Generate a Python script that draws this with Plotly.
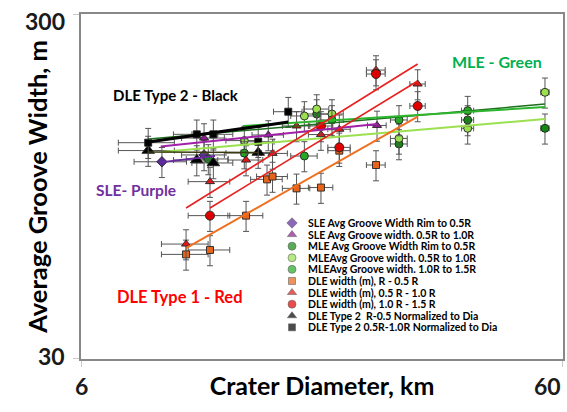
import numpy as np
import plotly.graph_objects as go

# ---------------- data ----------------
x_ticks = [6, 60]
y_ticks = [30, 300]

# SLE
sle_rim_x = [8.83, 10.80]
sle_rim_y = [111.9, 117.1]
sle_mid_x = [10.80, 14.68, 24.68]
sle_mid_y = [131.1, 133.8, 142.6]

# MLE
mle_rim_x = [11.02, 18.50, 27.41, 38.06, 55.06]
mle_rim_y = [114.0, 153.9, 126.0, 147.9, 139.9]
mle_mid_x = [13.09, 17.44, 18.50, 19.90, 27.41, 38.06, 55.06]
mle_mid_y = [128.9, 151.9, 159.1, 153.9, 130.8, 139.9, 177.9]
mle_out_x = [13.09, 17.44, 19.90, 27.41, 38.06]
mle_out_y = [118.6, 116.3, 147.9, 147.9, 157.4]

# DLE type 1
dle_rim_x = [9.91, 11.11, 13.20, 14.59, 14.98, 16.80, 18.88, 20.61, 24.56]
dle_rim_y = [60.3, 62.1, 78.1, 99.5, 101.4, 93.7, 94.2, 120.5, 109.5]
dle_mid_x = [9.91, 11.11, 13.20, 14.98, 16.80, 18.88, 20.61, 24.56, 29.97]
dle_mid_y = [64.6, 98.0, 113.2, 118.3, 142.1, 134.2, 139.0, 206.4, 188.0]
dle_out_x = [11.11, 18.88, 20.61, 24.56, 29.97]
dle_out_y = [78.1, 142.1, 123.2, 201.0, 162.4]

# DLE type 2
dle2_rim_x = [8.27, 10.43, 11.29, 13.99]
dle2_rim_y = [120.6, 113.2, 111.0, 119.0]
dle2_mid_x = [8.27, 10.43, 11.29, 13.99, 16.15]
dle2_mid_y = [127.1, 134.4, 134.4, 127.9, 156.3]

# error bars
x_err_km = 1.1
y_err_pct = 10

# power-law trendlines (end points)
tr_sle_rim_x = [8.83, 11.38];  tr_sle_rim_y = [111.7, 116.3]
tr_sle_mid_x = [8.78, 24.68];  tr_sle_mid_y = [123.9, 144.0]
tr_mle_rim_x = [8.30, 55.06];  tr_mle_rim_y = [130.2, 164.5]
tr_mle_mid_x = [8.78, 55.06];  tr_mle_mid_y = [119.4, 148.9]
tr_mle_out_x = [13.01, 55.06]; tr_mle_out_y = [142.1, 161.3]
tr_dle_rim_x = [9.91, 29.97];  tr_dle_rim_y = [62.9, 151.2]
tr_dle_mid_x = [9.91, 29.97];  tr_dle_mid_y = [82.2, 214.9]
tr_dle_out_x = [11.11, 29.97]; tr_dle_out_y = [82.2, 191.8]
tr_dle2_rim_x = [8.27, 13.99]; tr_dle2_rim_y = [119.4, 119.0]
tr_dle2_mid_x = [8.27, 16.15]; tr_dle2_mid_y = [127.7, 145.9]

legend_labels = [
    "SLE Avg Groove Width Rim to 0.5R",
    "SLE Avg Groove width. 0.5R to 1.0R",
    "MLE Avg Groove Width Rim to 0.5R",
    "MLEAvg Groove width. 0.5R to 1.0R",
    "MLEAvg Groove width. 1.0R to 1.5R",
    "DLE width (m), R - 0.5 R",
    "DLE width (m), 0.5 R - 1.0 R",
    "DLE width (m), 1.0 R - 1.5 R",
    "DLE Type 2  R-0.5 Normalized to Dia",
    "DLE Type 2 0.5R-1.0R Normalized to Dia",
]

# ---------------- styles ----------------
FONT = "Lato, 'Open Sans', sans-serif"
series = [
    (sle_rim_x, sle_rim_y, "diamond", "#5B2A9A", 8),
    (sle_mid_x, sle_mid_y, "triangle-up", "#8E1E8E", 8),
    (mle_rim_x, mle_rim_y, "circle", "#128A12", 8),
    (mle_mid_x, mle_mid_y, "circle", "#9BE04E", 8),
    (mle_out_x, mle_out_y, "circle", "#27A827", 8),
    (dle_rim_x, dle_rim_y, "square", "#E8641A", 7),
    (dle_mid_x, dle_mid_y, "triangle-up", "#E01818", 8),
    (dle_out_x, dle_out_y, "circle", "#E00000", 9),
    (dle2_rim_x, dle2_rim_y, "triangle-up", "#000000", 11),
    (dle2_mid_x, dle2_mid_y, "square", "#000000", 7),
]
trends = [
    (tr_sle_rim_x, tr_sle_rim_y, "#6A2AA0", 1.8),
    (tr_sle_mid_x, tr_sle_mid_y, "#A020A8", 2),
    (tr_mle_rim_x, tr_mle_rim_y, "#1E6E1E", 1.5),
    (tr_mle_mid_x, tr_mle_mid_y, "#9BE04E", 2),
    (tr_mle_out_x, tr_mle_out_y, "#2DB52D", 2),
    (tr_dle_rim_x, tr_dle_rim_y, "#F07020", 2),
    (tr_dle_mid_x, tr_dle_mid_y, "#E82020", 1.6),
    (tr_dle_out_x, tr_dle_out_y, "#E82020", 1.6),
    (tr_dle2_rim_x, tr_dle2_rim_y, "#3A3A10", 1.6),
    (tr_dle2_mid_x, tr_dle2_mid_y, "#000000", 3),
]

fig = go.Figure()

for (xs, ys, sym, col, sz), lab in zip(series, legend_labels):
    fig.add_trace(go.Scatter(
        x=xs, y=ys, mode="markers", name=lab, showlegend=False,
        marker=dict(symbol=sym, color=col, size=sz, line=dict(color="#222222", width=0.9)),
        error_x=dict(type="constant", value=x_err_km, color="#555555", thickness=1, width=3),
        error_y=dict(type="percent", value=y_err_pct, color="#555555", thickness=1, width=3),
    ))

for xs, ys, col, w in trends:
    fig.add_trace(go.Scatter(x=xs, y=ys, mode="lines", showlegend=False,
                             hoverinfo="skip", line=dict(color=col, width=w)))

# ---------------- manual legend (compact, Excel-like) ----------------
leg_x_marker = 0.4378
leg_x_text = 0.466
leg_y0 = 0.3942
leg_dy = 0.0336
leg_y = [leg_y0 - i * leg_dy for i in range(len(legend_labels))]
fig.add_trace(go.Scatter(
    x=[leg_x_marker] * len(legend_labels), y=leg_y, xaxis="x2", yaxis="y2",
    mode="markers", showlegend=False, hoverinfo="skip",
    marker=dict(symbol=[s[2] for s in series], color=[s[3] for s in series],
                size=[min(s[4], 8) for s in series],
                line=dict(color="#222222", width=0.6)),
))
annotations = []
for lab, yy in zip(legend_labels, leg_y):
    annotations.append(dict(x=leg_x_text, y=yy, xref="paper", yref="paper", text=lab,
                            showarrow=False, xanchor="left", yanchor="middle",
                            font=dict(family=FONT, size=10.5, color="black", weight="bold")))

# group labels
for txt, px, py, col, sz in [
    ("DLE Type 2 - Black", 0.197, 0.765, "#000000", 15),
    ("SLE- Purple", 0.114, 0.490, "#7030A0", 15.5),
    ("MLE - Green", 0.863, 0.861, "#00B050", 16),
    ("DLE Type 1 - Red", 0.205, 0.180, "#FF0000", 16.5),
]:
    annotations.append(dict(x=px, y=py, xref="paper", yref="paper", text=txt, showarrow=False,
                            xanchor="center", yanchor="middle",
                            font=dict(family=FONT, size=sz, color=col, weight="bold")))

# tick labels
TICKFONT = dict(family=FONT, size=23, color="#1a1a1a", weight="bold")
annotations.append(dict(x=np.log10(x_ticks[0]), y=0, xref="x", yref="paper", text=str(x_ticks[0]),
                        showarrow=False, xanchor="center", yanchor="top", yshift=-11, font=TICKFONT))
annotations.append(dict(x=np.log10(x_ticks[1]), y=0, xref="x", yref="paper", text=str(x_ticks[1]),
                        showarrow=False, xanchor="right", yanchor="top", yshift=-11, font=TICKFONT))
annotations.append(dict(x=0, y=np.log10(y_ticks[0]), xref="paper", yref="y", text=str(y_ticks[0]),
                        showarrow=False, xanchor="right", yanchor="middle", xshift=-14, yshift=3,
                        font=TICKFONT))
annotations.append(dict(x=0, y=np.log10(y_ticks[1]), xref="paper", yref="y", text=str(y_ticks[1]),
                        showarrow=False, xanchor="right", yanchor="middle", xshift=-14, yshift=-7,
                        font=TICKFONT))

eps = 1e-4
fig.update_layout(
    width=567, height=412,
    margin=dict(l=81, r=4, t=14, b=53),
    paper_bgcolor="white", plot_bgcolor="white",
    font=dict(family=FONT, color="black"),
    showlegend=False,
    annotations=annotations,
    xaxis=dict(type="log", range=[np.log10(6) - eps, np.log10(60) + eps],
               showgrid=False, zeroline=False, showline=True, linecolor="#888888",
               linewidth=1.5, mirror=True, ticks="outside", ticklen=6, tickcolor="#c8c8c8",
               tickvals=x_ticks, showticklabels=False, automargin=False,
               title=dict(text="Crater Diameter, km", standoff=12,
                          font=dict(family=FONT, size=25, color="black", weight="bold"))),
    yaxis=dict(type="log", range=[np.log10(30) - eps, np.log10(300) + eps],
               showgrid=False, zeroline=False, showline=True, linecolor="#888888",
               linewidth=1.5, mirror=True, ticks="outside", ticklen=6, tickcolor="#c8c8c8",
               tickvals=y_ticks, showticklabels=False, automargin=False,
               title=dict(text="Average Groove Width, m", standoff=18,
                          font=dict(family=FONT, size=25.5, color="black", weight="bold"))),
    xaxis2=dict(overlaying="x", range=[0, 1], visible=False),
    yaxis2=dict(overlaying="y", range=[0, 1], visible=False),
)

fig.write_html("out.html", config={"displayModeBar": False},
               post_script="document.body.style.margin='0px';")
